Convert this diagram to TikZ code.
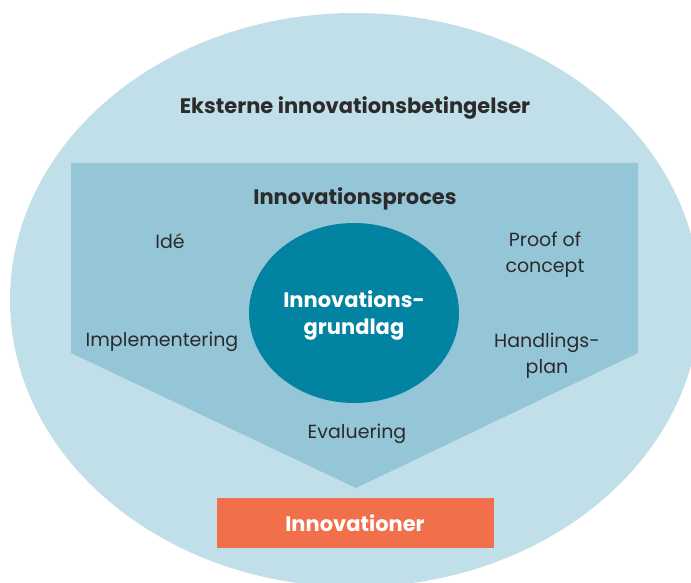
\documentclass[tikz,border=0pt]{standalone}
\usepackage{fontspec}
\setmainfont{Poppins}
\usetikzlibrary{shapes.geometric}

\definecolor{outerblue}{HTML}{C1DFE8}
\definecolor{procblue}{HTML}{94C6D8}
\definecolor{coreblue}{HTML}{0283A1}
\definecolor{resultorange}{HTML}{F26F4B}
\definecolor{labelgray}{HTML}{2B2B2B}

\newcommand*{\picw}{691}
\newcommand*{\pich}{583}

\begin{document}
\begin{tikzpicture}
[
	x=1pt,y=-1pt,
	heading/.style={font=\fontsize{21}{24}\selectfont\bfseries,text=labelgray},
	phase/.style={font=\fontsize{19}{26}\selectfont,text=labelgray,align=center},
	core/.style={ellipse,fill=coreblue,minimum width=210pt,minimum height=180pt,inner sep=0pt,
		text=white,align=center,font=\fontsize{21}{27}\selectfont\bfseries,text depth=0pt},
	result/.style={fill=resultorange,minimum width=277pt,minimum height=50pt,inner sep=0pt,
		text=white,font=\fontsize{21}{24}\selectfont\bfseries}
]

	\useasboundingbox (0,0) rectangle (\picw,\pich);
	\clip (0,0) rectangle (\picw,\pich);

	% outer conditions
	\fill[outerblue] (355,300) ellipse [x radius=345, y radius=287];
	\node[heading] (ekstern) at (355,108) {Eksterne innovationsbetingelser};

	% process shape
	\fill[procblue] (71,163) -- (638,163) -- (638,353) -- (356,488) -- (71,353) -- cycle;
	\node[heading] (proces) at (355,199) {Innovationsproces};

	\node[phase] (ide) at (170,241) {Idé};
	\node[phase] (proof) at (545,255) {Proof of\\concept};
	\node[phase] (impl) at (162,342) {Implementering};
	\node[phase] (plan) at (547,356) {Handlings-\\plan};
	\node[phase] (eval) at (357,434) {Evaluering};

	% core and result
	\node[core] (grundlag) at (354,313) {Innovations-\\grundlag};
	\node[result] (innov) at (355,523) {Innovationer};

\end{tikzpicture}
\end{document}
